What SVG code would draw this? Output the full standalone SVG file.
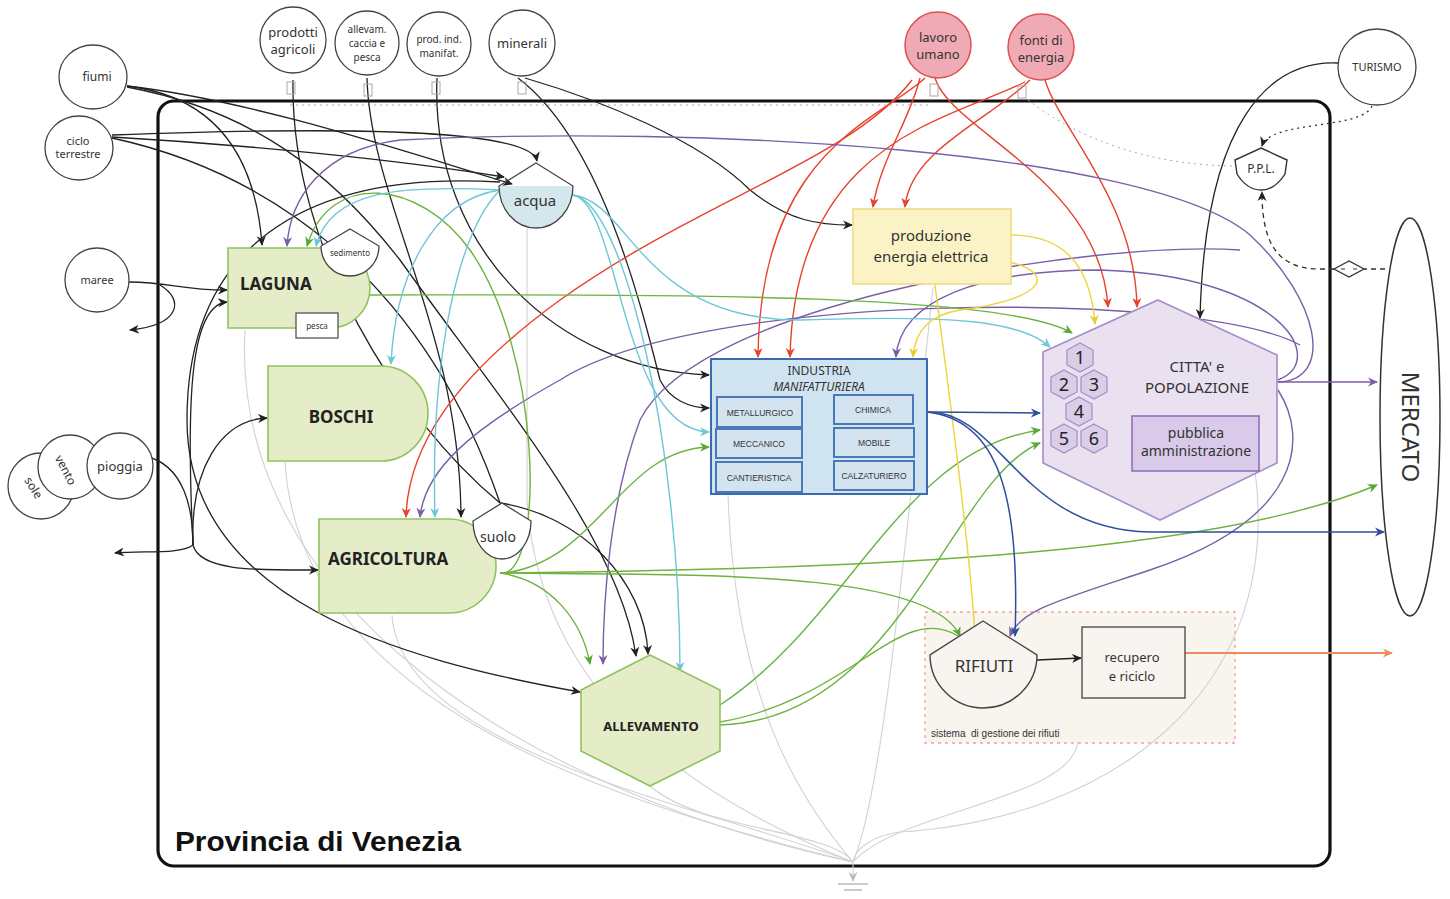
<svg xmlns="http://www.w3.org/2000/svg" width="1450" height="899" viewBox="0 0 1450 899">
<style>
.t{font-family:"Noto Sans","DejaVu Sans",sans-serif;fill:#333;text-anchor:middle}
.st{text-anchor:start}
.b{font-weight:bold;fill:#222}
.src{fill:#fff;stroke:#444;stroke-width:1.3}
.node{stroke-width:1.6}
.green{fill:#e5ecc8;stroke:#8fc45c}
.k{fill:none;stroke:#222;stroke-width:1.3}
.r{fill:none;stroke:#e8412c;stroke-width:1.4}
.p{fill:none;stroke:#7b5ea7;stroke-width:1.4}
.g{fill:none;stroke:#6db33f;stroke-width:1.4}
.c{fill:none;stroke:#6cc7d6;stroke-width:1.4}
.y{fill:none;stroke:#eed33a;stroke-width:1.4}
.bl{fill:none;stroke:#2d4f9e;stroke-width:1.5}
.o{fill:none;stroke:#f08a60;stroke-width:1.8}
.gr{fill:none;stroke:#d2d2d2;stroke-width:1.1}
.sub{fill:#d3e4f0;stroke:#4a78b8;stroke-width:2}
.subt{font-family:"Liberation Sans",Arial,sans-serif;font-size:8.5px;fill:#333;text-anchor:middle}
.hx{fill:#d9cde8;stroke:#a48cc8;stroke-width:1.2}
.num{font-family:"Noto Sans",sans-serif;font-size:18px;fill:#222;text-anchor:middle}
</style>
<defs>
<marker id="mk" viewBox="0 0 10 10" refX="9" refY="5" markerWidth="10" markerHeight="10" markerUnits="userSpaceOnUse" orient="auto"><path d="M0,0.5 L10,5 L0,9.5 L3,5 Z" fill="#222"/></marker>
<marker id="mr" viewBox="0 0 10 10" refX="9" refY="5" markerWidth="10" markerHeight="10" markerUnits="userSpaceOnUse" orient="auto"><path d="M0,0.5 L10,5 L0,9.5 L3,5 Z" fill="#e8412c"/></marker>
<marker id="mp" viewBox="0 0 10 10" refX="9" refY="5" markerWidth="10" markerHeight="10" markerUnits="userSpaceOnUse" orient="auto"><path d="M0,0.5 L10,5 L0,9.5 L3,5 Z" fill="#7b5ea7"/></marker>
<marker id="mg" viewBox="0 0 10 10" refX="9" refY="5" markerWidth="10" markerHeight="10" markerUnits="userSpaceOnUse" orient="auto"><path d="M0,0.5 L10,5 L0,9.5 L3,5 Z" fill="#5aa83a"/></marker>
<marker id="mc" viewBox="0 0 10 10" refX="9" refY="5" markerWidth="10" markerHeight="10" markerUnits="userSpaceOnUse" orient="auto"><path d="M0,0.5 L10,5 L0,9.5 L3,5 Z" fill="#6cc7d6"/></marker>
<marker id="my" viewBox="0 0 10 10" refX="9" refY="5" markerWidth="10" markerHeight="10" markerUnits="userSpaceOnUse" orient="auto"><path d="M0,0.5 L10,5 L0,9.5 L3,5 Z" fill="#e8cc30"/></marker>
<marker id="mb" viewBox="0 0 10 10" refX="9" refY="5" markerWidth="10" markerHeight="10" markerUnits="userSpaceOnUse" orient="auto"><path d="M0,0.5 L10,5 L0,9.5 L3,5 Z" fill="#2d4f9e"/></marker>
<marker id="mo" viewBox="0 0 10 10" refX="9" refY="5" markerWidth="10" markerHeight="10" markerUnits="userSpaceOnUse" orient="auto"><path d="M0,0.5 L10,5 L0,9.5 L3,5 Z" fill="#f08a60"/></marker>
<marker id="mgr" viewBox="0 0 10 10" refX="9" refY="5" markerWidth="10" markerHeight="10" markerUnits="userSpaceOnUse" orient="auto"><path d="M0,0.5 L10,5 L0,9.5 L3,5 Z" fill="#bbb"/></marker>
</defs>
<rect width="1450" height="899" fill="#fff"/>

<!-- boundary -->
<g id="provincia">
<rect x="158" y="101" width="1172" height="765" rx="16" fill="none" stroke="#111" stroke-width="3.2"/>
<text x="175" y="851" font-family="Liberation Sans,Arial,sans-serif" font-size="28" font-weight="bold" fill="#111" textLength="286" lengthAdjust="spacingAndGlyphs">Provincia di Venezia</text>
</g>

<!-- gestione rifiuti area -->
<g id="sistema-rifiuti">
<rect x="925" y="612" width="310" height="131" fill="#f8f4ee" stroke="#f4a0a0" stroke-width="1.3" stroke-dasharray="3,4"/>
<text x="931" y="737" font-family="Liberation Sans,Arial,sans-serif" font-size="10" fill="#333" xml:space="preserve">sistema  di gestione dei rifiuti</text>
</g>

<!-- connectors -->
<g id="connectors">
<!-- gray outflows to ground -->
<path class="gr" d="M245,330 C230,600 520,790 853,862"/>
<path class="gr" d="M285,462 C300,700 600,800 853,862"/>
<path class="gr" d="M392,615 C400,750 700,805 853,862"/>
<path class="gr" d="M527,228 L527,500 C540,700 700,800 853,862"/>
<path class="gr" d="M728,495 C735,700 800,800 853,862"/>
<path class="gr" d="M650,786 C700,830 830,830 853,862"/>
<path class="gr" d="M933,287 C900,600 880,800 853,862"/>
<path class="gr" d="M1078,742 C1070,800 900,810 853,862"/>
<path class="gr" d="M1255,470 C1285,700 1100,820 900,832 C870,836 855,850 853,862"/>
<path class="gr" d="M853,862 L853,881" marker-end="url(#mgr)"/>
<path d="M838,884 L868,884 M844,890 L862,890" stroke="#bbb" stroke-width="1.5"/>

<!-- dotted source lines at top -->
<path d="M290,105 L930,105" fill="none" stroke="#aaa" stroke-width="1" stroke-dasharray="2,4"/>
<path d="M1028,100 C1080,140 1150,165 1234,166" fill="none" stroke="#aaa" stroke-width="1" stroke-dasharray="2,4"/>
<path d="M1372,106 C1362,130 1270,120 1262,146" fill="none" stroke="#333" stroke-width="1.3" stroke-dasharray="2,4" marker-end="url(#mk)"/>
<path d="M1385,269 L1364,269 M1334,269 L1320,269 C1275,269 1262,240 1262,192" fill="none" stroke="#333" stroke-width="1.3" stroke-dasharray="5,4" marker-end="url(#mk)"/>

<!-- black -->
<path class="k" d="M127,86 C210,96 255,150 262,245" marker-end="url(#mk)"/>
<path class="k" d="M127,86 C250,100 400,150 512,184" marker-end="url(#mk)"/>
<path class="k" d="M112,135 C300,128 530,125 537,161" marker-end="url(#mk)"/>
<path class="k" d="M112,137 C250,145 400,160 504,177" marker-end="url(#mk)"/>
<path class="k" d="M112,138 C260,170 420,270 500,503"/>
<path class="k" d="M129,282 C170,282 180,290 227,290" marker-end="url(#mk)"/>
<path class="k" d="M160,285 C185,300 180,325 130,330" marker-end="url(#mk)"/>
<path class="k" d="M145,456 C185,465 193,510 193,545"/>
<path class="k" d="M193,545 C180,555 140,550 115,553" marker-end="url(#mk)"/>
<path class="k" d="M193,545 C200,572 260,570 318,570" marker-end="url(#mk)"/>
<path class="k" d="M193,545 C190,470 220,420 267,418" marker-end="url(#mk)"/>
<path class="k" d="M193,545 C186,400 190,305 227,302" marker-end="url(#mk)"/>
<path class="k" d="M500,182 C300,170 187,250 187,420 C187,600 400,660 580,692" marker-end="url(#mk)"/>
<path class="k" d="M293,80 C290,250 400,420 500,503"/>
<path class="k" d="M500,503 C580,515 645,580 648,654" marker-end="url(#mk)"/>
<path class="k" d="M367,78 C370,200 460,330 461,517" marker-end="url(#mk)"/>
<path class="k" d="M127,87 C250,110 330,170 400,260 C500,400 620,540 636,656" marker-end="url(#mk)"/>
<path class="k" d="M437,78 C430,250 560,370 709,375" marker-end="url(#mk)"/>
<path class="k" d="M518,78 C600,140 640,300 660,380 C670,400 690,408 709,408" marker-end="url(#mk)"/>
<path class="k" d="M525,78 C600,100 700,140 750,190 C790,222 820,225 852,225" marker-end="url(#mk)"/>
<path class="k" d="M1338,63 C1270,60 1205,120 1200,318" marker-end="url(#mk)"/>
<path class="k" d="M1037,660 L1081,658" marker-end="url(#mk)"/>

<!-- red -->
<path class="r" d="M920,78 C910,120 880,160 873,207" marker-end="url(#mr)"/>
<path class="r" d="M1030,80 C990,120 910,150 905,207" marker-end="url(#mr)"/>
<path class="r" d="M925,78 C880,120 760,150 758,357" marker-end="url(#mr)"/>
<path class="r" d="M1025,82 C950,120 795,140 790,357" marker-end="url(#mr)"/>
<path class="r" d="M912,80 C850,160 700,200 560,300 C450,380 408,450 406,517" marker-end="url(#mr)"/>
<path class="r" d="M935,78 C950,130 1100,180 1108,307" marker-end="url(#mr)"/>
<path class="r" d="M1045,80 C1060,130 1135,200 1137,307" marker-end="url(#mr)"/>

<!-- purple -->
<path class="p" d="M1278,382 C1335,380 1320,300 1250,235 C1150,150 700,125 400,140 C320,150 290,200 287,246" marker-end="url(#mp)"/>
<path class="p" d="M1278,380 C1330,360 1280,275 1100,270 C980,270 900,300 896,357" marker-end="url(#mp)"/>
<path class="p" d="M1300,345 C1200,290 700,290 560,380 C470,430 425,470 420,517" marker-end="url(#mp)"/>
<path class="p" d="M1240,250 C1100,240 700,300 640,420 C610,500 603,600 603,664" marker-end="url(#mp)"/>
<path class="p" d="M1278,390 C1310,440 1300,520 1150,570 C1060,600 1020,610 1010,636" marker-end="url(#mp)"/>
<path class="p" d="M1278,382 L1377,382" marker-end="url(#mp)"/>

<!-- green -->
<path class="g" d="M370,295 C600,295 1000,290 1072,333" marker-end="url(#mg)"/>
<path class="g" d="M500,573 C550,580 582,620 590,664" marker-end="url(#mg)"/>
<path class="g" d="M500,573 C700,575 930,570 960,636" marker-end="url(#mg)"/>
<path class="g" d="M500,573 C800,570 1200,560 1377,485" marker-end="url(#mg)"/>
<path class="g" d="M505,573 C545,560 540,350 470,250 C420,180 330,170 307,246" marker-end="url(#mg)"/>
<path class="g" d="M505,573 C600,560 620,450 709,447" marker-end="url(#mg)"/>
<path class="g" d="M720,705 C850,620 900,450 1040,430" marker-end="url(#mg)"/>
<path class="g" d="M720,725 C900,720 950,480 1040,443" marker-end="url(#mg)"/>
<path class="g" d="M720,722 C850,700 900,600 958,636"/>

<!-- cyan -->
<path class="c" d="M500,190 C400,185 330,190 316,246" marker-end="url(#mc)"/>
<path class="c" d="M500,190 C430,200 395,280 391,364" marker-end="url(#mc)"/>
<path class="c" d="M500,190 C460,230 430,350 435,517" marker-end="url(#mc)"/>
<path class="c" d="M572,195 C620,200 620,430 709,432" marker-end="url(#mc)"/>
<path class="c" d="M572,195 C625,200 680,450 680,671" marker-end="url(#mc)"/>
<path class="c" d="M572,195 C630,200 640,320 800,320 C950,315 1020,320 1050,347" marker-end="url(#mc)"/>

<!-- yellow -->
<path class="y" d="M1010,235 C1060,235 1090,260 1095,324" marker-end="url(#my)"/>
<path class="y" d="M1010,262 C1060,275 1040,300 960,310 C930,315 915,330 913,357" marker-end="url(#my)"/>
<path class="y" d="M935,285 C950,400 970,550 975,636" marker-end="url(#my)"/>

<!-- blue -->
<path class="bl" d="M927,412 L1040,413" marker-end="url(#mb)"/>
<path class="bl" d="M927,412 C1000,420 1020,500 1015,636" marker-end="url(#mb)"/>
<path class="bl" d="M927,412 C1000,410 1020,530 1150,532 L1384,532" marker-end="url(#mb)"/>

<!-- orange -->
<path class="o" d="M1185,653 L1392,653" marker-end="url(#mo)"/>
</g>

<!-- source icons -->
<g id="icons" fill="none" stroke="#aaa" stroke-width="1">
<rect x="287" y="82" width="8" height="12"/><rect x="364" y="84" width="8" height="12"/><rect x="432" y="82" width="8" height="12"/><rect x="518" y="82" width="8" height="12"/><rect x="930" y="84" width="8" height="12"/><rect x="1018" y="86" width="8" height="12"/>
</g>

<!-- external sources -->
<g id="fiumi"><ellipse class="src" cx="93" cy="77" rx="34" ry="32"/><text class="t" x="97" y="81" font-size="12">fiumi</text></g>
<g id="ciclo-terrestre"><ellipse class="src" cx="79" cy="148" rx="34" ry="32"/><text class="t" x="78" y="145" font-size="11">ciclo</text><text class="t" x="78" y="158" font-size="11">terrestre</text></g>
<g id="maree"><circle class="src" cx="97" cy="280" r="32"/><text class="t" x="97" y="284" font-size="11">maree</text></g>
<g id="sole"><circle class="src" cx="41" cy="486" r="33"/><text class="t" x="30" y="490" font-size="12" transform="rotate(58 30 490)">sole</text></g>
<g id="vento"><circle class="src" cx="70" cy="467" r="32"/><text class="t" x="62" y="472" font-size="12" transform="rotate(62 62 472)">vento</text></g>
<g id="pioggia"><circle class="src" cx="120" cy="466" r="33"/><text class="t" x="120" y="471" font-size="13">pioggia</text></g>
<g id="prodotti-agricoli"><circle class="src" cx="293" cy="40" r="33"/><text class="t" x="293" y="37" font-size="13">prodotti</text><text class="t" x="293" y="54" font-size="13">agricoli</text></g>
<g id="allevam"><circle class="src" cx="367" cy="43" r="32"/><text class="t" x="367" y="33" font-size="10">allevam.</text><text class="t" x="367" y="47" font-size="10">caccia e</text><text class="t" x="367" y="61" font-size="10">pesca</text></g>
<g id="prod-ind"><circle class="src" cx="439" cy="44" r="32"/><text class="t" x="439" y="43" font-size="10">prod. ind.</text><text class="t" x="439" y="57" font-size="10">manifat.</text></g>
<g id="minerali"><circle class="src" cx="522" cy="43" r="33"/><text class="t" x="522" y="48" font-size="13">minerali</text></g>
<g id="lavoro-umano"><circle cx="938" cy="45" r="33" fill="#f0aab5" stroke="#e05050" stroke-width="1.5"/><text class="t" x="938" y="42" font-size="13">lavoro</text><text class="t" x="938" y="59" font-size="13">umano</text></g>
<g id="fonti-energia"><circle cx="1041" cy="47" r="33" fill="#f0aab5" stroke="#e05050" stroke-width="1.5"/><text class="t" x="1041" y="45" font-size="13">fonti di</text><text class="t" x="1041" y="62" font-size="13">energia</text></g>
<g id="turismo"><ellipse class="src" cx="1377" cy="67" rx="39" ry="38"/><text class="t" x="1377" y="71" font-size="11">TURISMO</text></g>
<g id="ppl"><path d="M1261,148 L1287,160 L1285,174 Q1275,190 1261,190 Q1247,190 1237,174 L1235,160 Z" fill="#fff" stroke="#333" stroke-width="1.4"/><text class="t" x="1261" y="173" font-size="12">P.P.L.</text></g>
<g id="diamante"><path d="M1334,269 L1349,261 L1364,269 L1349,277 Z" fill="#fff" stroke="#333" stroke-width="1.3"/><path d="M1341,269 L1345,269 M1353,269 L1357,269" stroke="#333" stroke-width="1.2"/></g>
<g id="mercato"><ellipse cx="1410" cy="417" rx="30" ry="199" fill="#fff" stroke="#333" stroke-width="1.5"/><text class="t" x="1402" y="427" font-size="24" fill="#222" transform="rotate(90 1402 427)">MERCATO</text></g>

<!-- internal nodes -->
<g id="laguna">
<path class="green node" d="M228,248 L330,248 A40,40 0 0 1 330,328 L228,328 Z"/>
<text class="t st b" x="240" y="290" font-size="17">LAGUNA</text>
</g>
<g id="sedimento"><path d="M350,229 L379,246 A29,30 0 0 1 321,246 Z" fill="#fff" stroke="#444" stroke-width="1.3"/><text class="t" x="350" y="256" font-size="8">sedimento</text></g>
<g id="pesca"><rect x="296" y="313" width="42" height="25" fill="#fff" stroke="#555" stroke-width="1.3"/><text class="t" x="317" y="329" font-size="8">pesca</text></g>
<g id="boschi">
<path class="green node" d="M268,366 L381,366 A47,47.5 0 0 1 381,461 L268,461 Z"/>
<text class="t b" x="341" y="423" font-size="17">BOSCHI</text>
</g>
<g id="agricoltura">
<path class="green node" d="M319,519 L449,519 A47,47 0 0 1 449,613 L319,613 Z"/>
<text class="t st b" x="328" y="565" font-size="17">AGRICOLTURA</text>
</g>
<g id="suolo"><path d="M502,503 L531,521 A29,38 0 0 1 473,521 Z" fill="#fff" stroke="#444" stroke-width="1.3"/><text class="t" x="498" y="542" font-size="14">suolo</text></g>
<g id="acqua">
<path d="M499,186 L573,186 A37,42 0 0 1 499,186 Z" fill="#d3e7ec"/>
<path d="M536,163 L573,186 A37,42 0 0 1 499,186 Z" fill="none" stroke="#444" stroke-width="1.3"/>
<text class="t" x="535" y="206" font-size="15">acqua</text>
</g>
<g id="allevamento">
<path class="green node" d="M650,655 L720,690 L720,751 L650,786 L581,751 L581,690 Z"/>
<text class="t b" x="651" y="731" font-size="13">ALLEVAMENTO</text>
</g>
<g id="produzione-energia">
<rect x="853" y="209" width="158" height="75" fill="#fbf3c6" stroke="#f0dc80" stroke-width="1.6"/>
<text class="t" x="931" y="241" font-size="15" fill="#444">produzione</text>
<text class="t" x="931" y="262" font-size="15" fill="#444">energia elettrica</text>
</g>
<g id="industria">
<rect x="711" y="359" width="216" height="135" fill="#d0e3f0" stroke="#3a6ab0" stroke-width="2"/>
<text class="t" x="819" y="375" font-size="12" fill="#3a6ab0">INDUSTRIA</text>
<text class="t" x="819" y="391" font-size="12" fill="#3a6ab0" font-style="italic">MANIFATTURIERA</text>
<rect class="sub" x="717" y="397" width="85" height="30"/><text class="subt" x="760" y="416">METALLURGICO</text>
<rect class="sub" x="716" y="429" width="86" height="29"/><text class="subt" x="759" y="447">MECCANICO</text>
<rect class="sub" x="716" y="462" width="86" height="30"/><text class="subt" x="759" y="481">CANTIERISTICA</text>
<rect class="sub" x="834" y="395" width="79" height="29"/><text class="subt" x="873" y="413">CHIMICA</text>
<rect class="sub" x="834" y="428" width="80" height="29"/><text class="subt" x="874" y="446">MOBILE</text>
<rect class="sub" x="834" y="461" width="80" height="29"/><text class="subt" x="874" y="479">CALZATURIERO</text>
</g>
<g id="citta">
<path d="M1158,300 L1277,355 L1277,463 L1160,520 L1043,463 L1043,352 Z" fill="#e9e0f0" stroke="#a48cc8" stroke-width="1.6"/>
<path class="hx" d="M1080,343 L1093,350 L1093,365 L1080,372 L1067,365 L1067,350 Z"/>
<path class="hx" d="M1064,370 L1077,377 L1077,392 L1064,399 L1051,392 L1051,377 Z"/>
<path class="hx" d="M1094,370 L1107,377 L1107,392 L1094,399 L1081,392 L1081,377 Z"/>
<path class="hx" d="M1079,397 L1092,404 L1092,419 L1079,426 L1066,419 L1066,404 Z"/>
<path class="hx" d="M1064,424 L1077,431 L1077,446 L1064,453 L1051,446 L1051,431 Z"/>
<path class="hx" d="M1094,424 L1107,431 L1107,446 L1094,453 L1081,446 L1081,431 Z"/>
<text class="num" x="1080" y="364">1</text><text class="num" x="1064" y="391">2</text><text class="num" x="1094" y="391">3</text>
<text class="num" x="1079" y="418">4</text><text class="num" x="1064" y="445">5</text><text class="num" x="1094" y="445">6</text>
<text class="t" x="1197" y="372" font-size="15" fill="#222">CITTA' e</text>
<text class="t" x="1197" y="393" font-size="15" fill="#222">POPOLAZIONE</text>
<rect x="1132" y="416" width="127" height="55" fill="#d8cae8" stroke="#8a6bb8" stroke-width="1.5"/>
<text class="t" x="1196" y="438" font-size="14" fill="#333">pubblica</text>
<text class="t" x="1196" y="456" font-size="14" fill="#333">amministrazione</text>
</g>
<g id="rifiuti">
<path d="M983,621 L1037,655 A53.5,53 0 0 1 930,655 Z" fill="#f8f4ef" stroke="#444" stroke-width="1.4"/>
<text class="t" x="984" y="672" font-size="17" fill="#333">RIFIUTI</text>
</g>
<g id="recupero">
<rect x="1082" y="627" width="103" height="71" fill="#f8f4ef" stroke="#444" stroke-width="1.3"/>
<text class="t" x="1132" y="662" font-size="13">recupero</text>
<text class="t" x="1132" y="681" font-size="13">e riciclo</text>
</g>
</svg>
